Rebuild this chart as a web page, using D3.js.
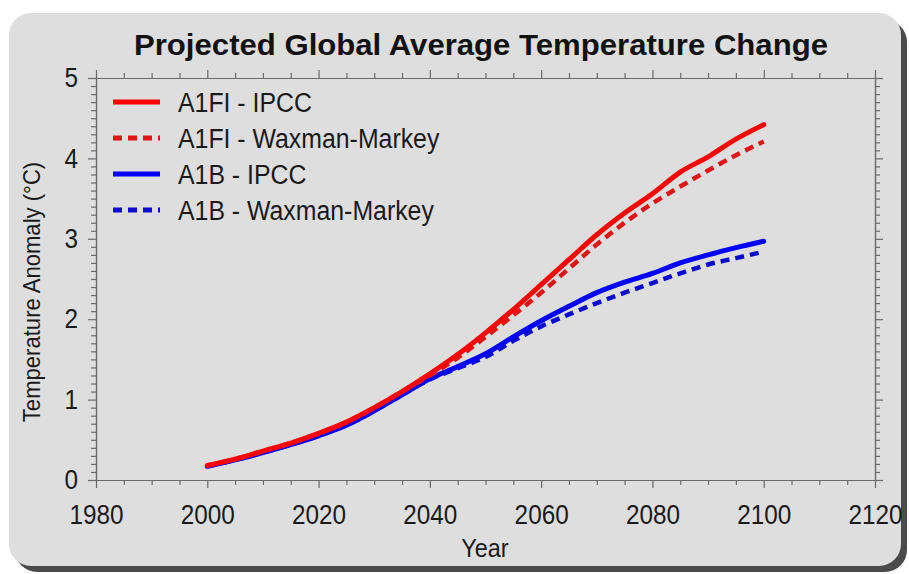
<!DOCTYPE html>
<html>
<head>
<meta charset="utf-8">
<script src="https://cdn.jsdelivr.net/npm/d3@7"></script>
<style>
  html, body { margin: 0; padding: 0; background: #ffffff; }
  svg { display: block; }
  text { font-family: "Liberation Sans", Arial, sans-serif; }
</style>
</head>
<body>
<svg id="chart" width="909" height="574"></svg>
<script>
// ---------- data ----------
const years = [2000,2005,2010,2015,2020,2025,2030,2035,2040,2045,2050,2055,2060,2065,2070,2075,2080,2085,2090,2095,2100];
const a1fiIpcc   = [0.18,0.26,0.36,0.46,0.58,0.72,0.90,1.10,1.32,1.56,1.83,2.12,2.43,2.74,3.05,3.32,3.56,3.83,4.02,4.24,4.42];
const a1fiWaxman = [0.18,0.26,0.36,0.46,0.58,0.72,0.90,1.10,1.30,1.52,1.78,2.05,2.33,2.63,2.93,3.20,3.44,3.65,3.85,4.04,4.21];
const a1bIpcc    = [0.17,0.25,0.34,0.44,0.55,0.68,0.86,1.06,1.26,1.41,1.57,1.78,1.98,2.16,2.33,2.46,2.57,2.70,2.80,2.89,2.97];
const a1bWaxman  = [0.17,0.25,0.34,0.44,0.55,0.68,0.86,1.06,1.25,1.39,1.53,1.73,1.91,2.06,2.20,2.33,2.45,2.57,2.68,2.76,2.84];

const seriesNames = ["A1FI - IPCC", "A1FI - Waxman-Markey", "A1B - IPCC", "A1B - Waxman-Markey"];
const seriesValues = [a1fiIpcc, a1fiWaxman, a1bIpcc, a1bWaxman];
const seriesColors = ["#ff0000", "#e01414", "#0000ff", "#0a0ad0"];
const seriesDashed = [false, true, false, true];

const xTickLabels = [1980,2000,2020,2040,2060,2080,2100,2120];
const yTickLabels = [0,1,2,3,4,5];
const titleText = "Projected Global Average Temperature Change";
const xTitle = "Year";
const yTitle = "Temperature Anomaly (°C)";

// ---------- layout ----------
const svg = d3.select("#chart");
const L = 96, R = 875, T = 78, B = 480;

function condense(sel, factor) {
  sel.each(function () {
    const w = this.getComputedTextLength();
    d3.select(this).attr("textLength", w * factor).attr("lengthAdjust", "spacingAndGlyphs");
  });
}

// panel with shadow
svg.append("rect").attr("x", 15).attr("y", 20).attr("width", 892).attr("height", 552)
  .attr("rx", 22).attr("fill", "#4b4b4b");
svg.append("rect").attr("x", 9).attr("y", 13).attr("width", 892).attr("height", 553)
  .attr("rx", 22).attr("fill", "#dedede");

const x = d3.scaleLinear().domain([1980, 2120]).range([L, R]);
const y = d3.scaleLinear().domain([0, 5]).range([B, T]);

const axisColor = "#6a6a6a";
const xMinor = d3.range(1980, 2121, 5).filter(v => v % 20 !== 0);
const yMinor = d3.range(0, 50).map(v => v / 10).filter(v => Math.abs(v - Math.round(v)) > 1e-9);

function styleAxis(g) {
  g.selectAll("path.domain").attr("stroke", axisColor).attr("stroke-width", 1.2);
  g.selectAll(".tick line").attr("stroke", axisColor).attr("stroke-width", 1.2);
  g.selectAll(".tick text").attr("fill", "#1a1a1a").style("font-size", "27px")
    .style("font-family", '"Liberation Sans", Arial, sans-serif');
}

// bottom
svg.append("g").attr("transform", `translate(0,${B})`)
  .call(d3.axisBottom(x).tickValues(xMinor).tickSize(5).tickSizeOuter(0).tickFormat(""))
  .call(styleAxis);
const bottomMajor = svg.append("g").attr("transform", `translate(0,${B})`)
  .call(d3.axisBottom(x).tickValues(xTickLabels).tickSize(8).tickSizeOuter(0).tickPadding(17).tickFormat(d3.format("d")))
  .call(styleAxis);
condense(bottomMajor.selectAll(".tick text"), 0.9);
// top
svg.append("g").attr("transform", `translate(0,${T})`)
  .call(d3.axisTop(x).tickValues(xMinor).tickSize(5).tickSizeOuter(0).tickFormat(""))
  .call(styleAxis);
svg.append("g").attr("transform", `translate(0,${T})`)
  .call(d3.axisTop(x).tickValues(xTickLabels).tickSize(8).tickSizeOuter(0).tickFormat(""))
  .call(styleAxis);
// left
svg.append("g").attr("transform", `translate(${L},0)`)
  .call(d3.axisLeft(y).tickValues(yMinor).tickSize(5).tickSizeOuter(0).tickFormat(""))
  .call(styleAxis);
const leftMajor = svg.append("g").attr("transform", `translate(${L},0)`)
  .call(d3.axisLeft(y).tickValues(yTickLabels).tickSize(8).tickSizeOuter(0).tickPadding(10).tickFormat(d3.format("d")))
  .call(styleAxis);
condense(leftMajor.selectAll(".tick text"), 0.9);
// right
svg.append("g").attr("transform", `translate(${R},0)`)
  .call(d3.axisRight(y).tickValues(yMinor).tickSize(5).tickSizeOuter(0).tickFormat(""))
  .call(styleAxis);
svg.append("g").attr("transform", `translate(${R},0)`)
  .call(d3.axisRight(y).tickValues(yTickLabels).tickSize(8).tickSizeOuter(0).tickFormat(""))
  .call(styleAxis);

// lines
const line = d3.line().x((d, i) => x(years[i])).y(d => y(d)).curve(d3.curveMonotoneX);
const drawOrder = [3, 2, 1, 0];
drawOrder.forEach(k => {
  svg.append("path").datum(seriesValues[k])
    .attr("d", line)
    .attr("fill", "none")
    .attr("stroke", seriesColors[k])
    .attr("stroke-width", seriesDashed[k] ? 4.5 : 5)
    .attr("stroke-linecap", seriesDashed[k] ? "butt" : "round")
    .attr("stroke-linejoin", "round")
    .attr("stroke-dasharray", seriesDashed[k] ? "9,6" : null);
});

// legend
const legY0 = 102, legDy = 36;
seriesNames.forEach((name, k) => {
  const yy = legY0 + k * legDy;
  svg.append("line").attr("x1", 113).attr("x2", 160).attr("y1", yy).attr("y2", yy)
    .attr("stroke", seriesColors[k]).attr("stroke-width", 5)
    .attr("stroke-dasharray", seriesDashed[k] ? "9,6" : null);
  const t = svg.append("text").attr("x", 178).attr("y", yy).attr("dy", "0.36em")
    .attr("fill", "#1a1a1a").style("font-size", "27px").text(name);
  condense(t, 0.92);
});

// titles
svg.append("text").attr("x", 481).attr("y", 55).attr("text-anchor", "middle")
  .attr("fill", "#111").style("font-size", "30px").style("font-weight", "bold")
  .attr("textLength", 694).attr("lengthAdjust", "spacingAndGlyphs")
  .text(titleText);
const yr = svg.append("text").attr("x", 485).attr("y", 557).attr("text-anchor", "middle")
  .attr("fill", "#1a1a1a").style("font-size", "26px").text(xTitle);
condense(yr, 0.9);
const yt = svg.append("text").attr("transform", "translate(40,292) rotate(-90)").attr("text-anchor", "middle")
  .attr("fill", "#1a1a1a").style("font-size", "24px").text(yTitle);
condense(yt, 0.92);
</script>
</body>
</html>
